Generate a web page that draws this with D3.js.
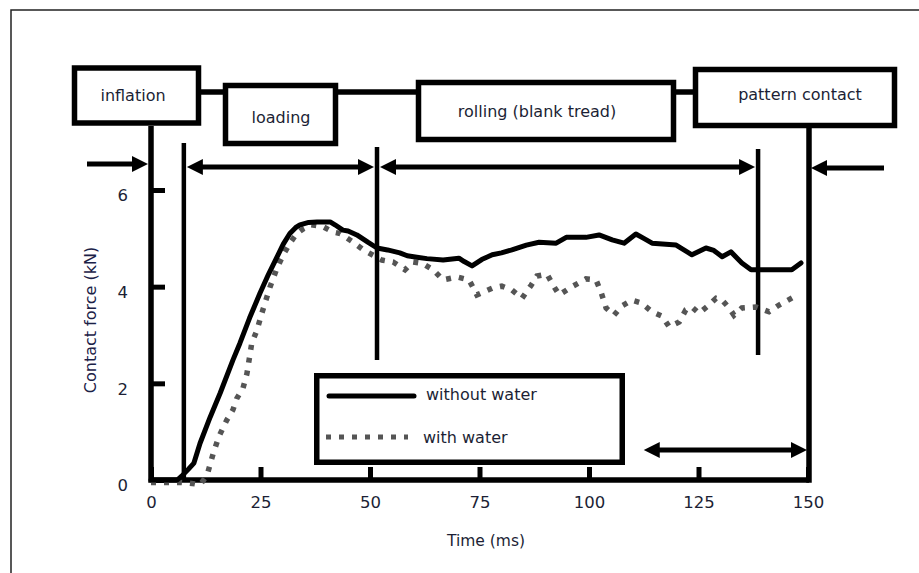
<!DOCTYPE html>
<html>
<head>
<meta charset="utf-8">
<script src="https://cdn.jsdelivr.net/npm/d3@7"></script>
<style>
    html, body { margin: 0; padding: 0; background: #fff; }
    svg { display: block; }
    text { font-family: "DejaVu Sans", sans-serif; fill: #1c1f35; }
</style>
</head>
<body>
<script>
var dryTime = [0, 6, 7, 8.5, 9.8, 11.2, 13.5, 15.8, 18.7, 20.3, 22.5, 24.9, 26.8, 28.7, 30.2, 31.7, 33, 34, 36, 37.9,
    40.9, 42, 43.8, 45, 47, 49.5, 51.6, 54, 56.8, 58.5, 60.7, 63, 66.7, 70.3, 71.5, 73.3, 75.5, 77.9, 80, 82.4,
    85.7, 88.6, 92.5, 94.8, 99.3, 102.3, 105.3, 108, 110.7, 112.5, 114.4, 119.9, 123.5, 126.7, 128.5, 130.4,
    132.4, 134.9, 137, 141.8, 146.3, 148.4];
var dryForce = [0, 0, 0.08, 0.22, 0.35, 0.76, 1.3, 1.8, 2.48, 2.83, 3.35, 3.87, 4.25, 4.6, 4.88, 5.1, 5.22, 5.28, 5.33, 5.34,
    5.34, 5.28, 5.17, 5.15, 5.07, 4.92, 4.8, 4.76, 4.7, 4.64, 4.61, 4.58, 4.55, 4.59, 4.52, 4.43, 4.56, 4.66, 4.7, 4.76,
    4.86, 4.92, 4.9, 5.02, 5.02, 5.07, 4.97, 4.9, 5.09, 5.0, 4.9, 4.86, 4.66, 4.8, 4.75, 4.62,
    4.72, 4.49, 4.35, 4.35, 4.35, 4.49];

var wetTime = [0, 7, 10, 11.2, 12.8, 14.2, 15.5, 17.3, 18.7, 19.6, 21, 21.9, 23, 24.2, 25.3, 27.2, 28.8, 30.2, 31.7, 33.3,
    34.8, 36.5, 39.3, 41.6, 43.2, 46, 48.5, 52.7, 55.3, 58, 59.8, 62, 64.4, 66.7, 69.9, 72.6, 74.4, 77.9, 80.1, 82.4,
    84.7, 86.8, 88.1, 90.4, 92, 93.2, 96.1, 99.3, 101.6, 102.7, 103.9, 105.7, 107.5, 109.8, 112, 114.4, 116.7, 118.3,
    120.6, 122.1, 123.5, 125.1, 127.4, 129, 130.4, 132, 133.1, 134.9, 138.1, 141.1, 143.4, 146.8];
var wetForce = [-0.05, -0.05, -0.08, -0.1, 0.1, 0.55, 0.9, 1.24, 1.45, 1.69, 1.9, 2.2, 2.83, 3.1, 3.45, 4.0, 4.39, 4.66, 4.9, 5.1,
    5.2, 5.28, 5.24, 5.13, 5.1, 4.93, 4.76, 4.55, 4.51, 4.35, 4.51, 4.48, 4.35, 4.14, 4.2, 4.14, 3.83, 3.97, 4.01, 3.93,
    3.76, 4.03, 4.22, 4.26, 4.0, 3.83, 4.0, 4.16, 4.14, 3.9, 3.56, 3.41, 3.6, 3.72, 3.66, 3.48, 3.39, 3.17,
    3.27, 3.52, 3.58, 3.45, 3.62, 3.76, 3.72, 3.56, 3.41, 3.56, 3.58, 3.48, 3.62, 3.79];

var xTicks = [0, 25, 50, 75, 100, 125, 150];
var yTicks = [0, 2, 4, 6];
var phaseMarks = [7.5, 51.6, 138.6];
var seriesNames = ['without water', 'with water'];
var phaseNames = ['inflation', 'loading', 'rolling (blank tread)', 'pattern contact'];

(function () {
    'use strict';

    var width = 919, height = 573;
    var svg = d3.select('body').append('svg')
        .attr('width', width)
        .attr('height', height);

    var x = d3.scaleLinear().domain([0, 150]).range([151, 808]);
    var y = d3.scaleLinear().domain([0, 6]).range([480, 190]);

    var dry = dryTime.map(function (t, i) { return [t, dryForce[i]]; });
    var wet = wetTime.map(function (t, i) { return [t, wetForce[i]]; });

    // outer frame
    svg.append('rect')
        .attr('x', 11).attr('y', 10)
        .attr('width', 930).attr('height', 600)
        .attr('fill', 'none')
        .attr('stroke', '#222')
        .attr('stroke-width', 1.5);

    var ink = svg.append('g').attr('stroke', '#000').attr('fill', 'none');

    // phase boxes
    var boxes = [
        { x1: 74.5, x2: 198.5, y1: 68, y2: 123, tx: 133, ty: 101 },
        { x1: 225.5, x2: 335.5, y1: 85.5, y2: 143.5, tx: 281, ty: 123 },
        { x1: 418.5, x2: 673.5, y1: 82.5, y2: 139.5, tx: 537, ty: 117 },
        { x1: 695.5, x2: 894.5, y1: 69.5, y2: 125.5, tx: 800, ty: 100 }
    ];

    ink.append('line')
        .attr('x1', 198).attr('x2', 696)
        .attr('y1', 92).attr('y2', 92)
        .attr('stroke-width', 5.5);

    boxes.forEach(function (b, i) {
        ink.append('rect')
            .attr('x', b.x1).attr('y', b.y1)
            .attr('width', b.x2 - b.x1).attr('height', b.y2 - b.y1)
            .attr('fill', '#fff')
            .attr('stroke-width', 5.5);
        svg.append('text')
            .attr('x', b.tx).attr('y', b.ty)
            .attr('text-anchor', 'middle')
            .style('font-size', '16px')
            .text(phaseNames[i]);
    });

    // axis frame lines
    ink.append('line')
        .attr('x1', x(0)).attr('x2', x(0))
        .attr('y1', 126).attr('y2', 482.75)
        .attr('stroke-width', 5.5);
    ink.append('line')
        .attr('x1', 809).attr('x2', 809)
        .attr('y1', 128).attr('y2', 482.75)
        .attr('stroke-width', 5.5);
    ink.append('line')
        .attr('x1', x(0)).attr('x2', 809)
        .attr('y1', y(0)).attr('y2', y(0))
        .attr('stroke-width', 5.5);

    var xAxis = d3.axisBottom(x)
        .tickValues(xTicks)
        .tickFormat(d3.format('d'))
        .tickSize(-13)
        .tickPadding(16);
    var gx = svg.append('g')
        .attr('transform', 'translate(0,' + y(0) + ')')
        .call(xAxis);

    var yAxis = d3.axisLeft(y)
        .tickValues(yTicks)
        .tickFormat(d3.format('d'))
        .tickSize(-14)
        .tickPadding(23);
    var gy = svg.append('g')
        .attr('transform', 'translate(' + x(0) + ',0)')
        .call(yAxis);

    [gx, gy].forEach(function (g) {
        g.select('.domain').remove();
        g.selectAll('.tick line').attr('stroke', '#000').attr('stroke-width', 5);
        g.selectAll('.tick text')
            .attr('fill', '#1c1f35')
            .style('font-family', '"DejaVu Sans", sans-serif')
            .style('font-size', '16.5px');
    });
    gy.selectAll('.tick text').attr('dy', '0.66em');

    svg.append('text')
        .attr('x', 486).attr('y', 546)
        .attr('text-anchor', 'middle')
        .style('font-size', '15.5px')
        .text('Time (ms)');

    svg.append('text')
        .attr('transform', 'translate(96,320) rotate(-90)')
        .attr('text-anchor', 'middle')
        .style('font-size', '16px')
        .style('fill', '#1b2147')
        .text('Contact force (kN)');

    // phase markers
    var markerSpans = [[143, 482], [147, 360], [149, 355]];
    phaseMarks.forEach(function (t, i) {
        ink.append('line')
            .attr('x1', x(t)).attr('x2', x(t))
            .attr('y1', markerSpans[i][0]).attr('y2', markerSpans[i][1])
            .attr('stroke-width', 4.5);
    });

    function arrow(xa, xb, yy, headA, headB) {
        var len = 16, half = 8;
        var sa = headA ? xa + (xb > xa ? len - 2 : -len + 2) : xa;
        var sb = headB ? xb - (xb > xa ? len - 2 : -len + 2) : xb;
        ink.append('line')
            .attr('x1', sa).attr('x2', sb)
            .attr('y1', yy).attr('y2', yy)
            .attr('stroke-width', 5);
        var dir = xb > xa ? 1 : -1;
        if (headA) {
            ink.append('path')
                .attr('d', 'M' + xa + ',' + yy + 'L' + (xa + dir * len) + ',' + (yy - half) +
                    'L' + (xa + dir * len) + ',' + (yy + half) + 'Z')
                .attr('fill', '#000').attr('stroke', 'none');
        }
        if (headB) {
            ink.append('path')
                .attr('d', 'M' + xb + ',' + yy + 'L' + (xb - dir * len) + ',' + (yy - half) +
                    'L' + (xb - dir * len) + ',' + (yy + half) + 'Z')
                .attr('fill', '#000').attr('stroke', 'none');
        }
    }

    arrow(87, 148, 164, false, true);
    arrow(x(phaseMarks[0]) + 3, x(phaseMarks[1]) - 3, 167, true, true);
    arrow(x(phaseMarks[1]) + 3, x(phaseMarks[2]) - 3, 167, true, true);
    arrow(884, 811, 168, false, true);
    arrow(x(112.5), x(150) - 1, 450, true, true);

    // curves
    var line = d3.line()
        .x(function (d) { return x(d[0]); })
        .y(function (d) { return y(d[1]); });

    svg.append('path')
        .datum(wet)
        .attr('d', line)
        .attr('fill', 'none')
        .attr('stroke', '#555')
        .attr('stroke-width', 5.5)
        .attr('stroke-dasharray', '5,8');

    svg.append('path')
        .datum(dry)
        .attr('d', line)
        .attr('fill', 'none')
        .attr('stroke', '#000')
        .attr('stroke-width', 5)
        .attr('stroke-linejoin', 'round')
        .attr('stroke-linecap', 'round');

    // legend
    var lg = svg.append('g');
    lg.append('rect')
        .attr('x', 316.75).attr('y', 375.75)
        .attr('width', 305.5).attr('height', 86.5)
        .attr('fill', '#fff')
        .attr('stroke', '#000')
        .attr('stroke-width', 5.5);
    lg.append('line')
        .attr('x1', 329).attr('x2', 414)
        .attr('y1', 396).attr('y2', 396)
        .attr('stroke', '#000')
        .attr('stroke-width', 5)
        .attr('stroke-linecap', 'round');
    lg.append('line')
        .attr('x1', 326).attr('x2', 408)
        .attr('y1', 437).attr('y2', 437)
        .attr('stroke', '#555')
        .attr('stroke-width', 5)
        .attr('stroke-dasharray', '5,8');
    lg.append('text')
        .attr('x', 426).attr('y', 400)
        .style('font-size', '16px')
        .text(seriesNames[0]);
    lg.append('text')
        .attr('x', 423).attr('y', 443)
        .style('font-size', '16px')
        .text(seriesNames[1]);
})();
</script>
</body>
</html>
